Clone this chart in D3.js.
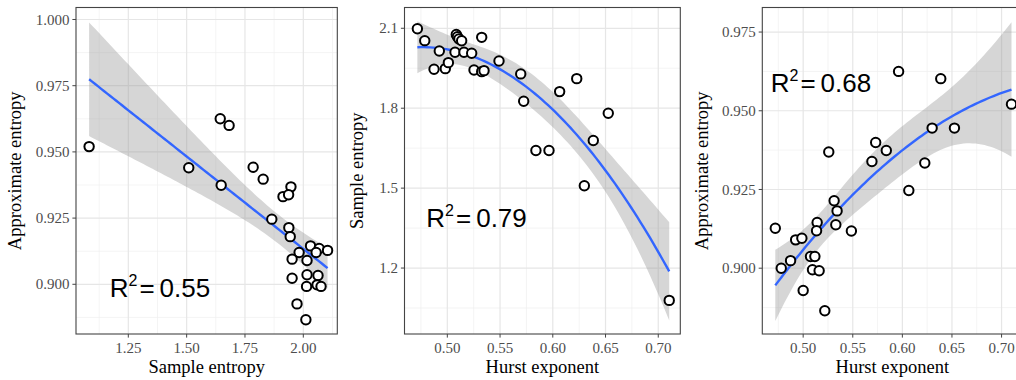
<!DOCTYPE html>
<html><head><meta charset="utf-8">
<script src="https://cdn.jsdelivr.net/npm/d3@7"></script>
<style>body{margin:0;background:#fff} svg{display:block}</style>
</head><body><svg id="c" width="1016" height="380"></svg>
<script>
// ---------- data ----------
// Panel A: approximate entropy vs sample entropy
const sampEnA = [1.082,1.509,1.644,1.682,1.648,1.785,1.828,1.947,1.913,1.937,1.865,1.938,1.944,2.031,
                 2.068,2.104,1.982,2.055,1.952,2.016,1.952,2.016,2.063,2.014,2.059,2.076,1.973,2.011];
const apEnA   = [0.9520,0.9440,0.9625,0.9600,0.9374,0.9442,0.9397,0.9368,0.9331,0.9338,0.9246,0.9214,0.9180,0.9145,
                 0.9135,0.9128,0.9120,0.9120,0.9095,0.9090,0.9023,0.9036,0.9033,0.8992,0.8998,0.8992,0.8926,0.8866];
// Panel B: sample entropy vs Hurst exponent
const hurstB   = [0.4716,0.4786,0.4874,0.4924,0.4981,0.5010,0.5073,0.5085,0.5096,0.5110,0.5136,0.5158,0.5231,0.5253,
                  0.5326,0.5348,0.5326,0.5490,0.5696,0.5724,0.5840,0.5964,0.6065,0.6227,0.6384,0.6526,0.6299,0.7104];
const sampEnB  = [2.0985,2.0535,1.9463,2.0149,1.9485,1.9710,2.0100,2.0770,2.0680,2.0600,2.0530,2.0100,2.0060,1.9436,
                  1.9373,1.9410,2.0660,1.9774,1.9287,1.8263,1.6410,1.6410,1.8623,1.9110,1.6786,1.7813,1.5087,1.0786];
// Panel C: approximate entropy vs Hurst exponent
const hurstC = [0.5962,0.6387,0.7100,0.5258,0.5731,0.5838,0.5693,0.6300,0.6525,0.6226,0.6065,0.5312,0.5342,0.4719,
                0.5141,0.5135,0.5329,0.5486,0.4924,0.4987,0.4779,0.4873,0.5074,0.5118,0.5094,0.5161,0.5000,0.5218];
const apEnC  = [0.9625,0.9602,0.9521,0.9369,0.9399,0.9374,0.9339,0.9445,0.9445,0.9334,0.9247,0.9214,0.9182,0.9127,
                0.9145,0.9119,0.9138,0.9118,0.9090,0.9095,0.9000,0.9024,0.9037,0.9037,0.8995,0.8992,0.8929,0.8865];

const xTicksA = [1.25,1.50,1.75,2.00];
const yTicksA = [0.900,0.925,0.950,0.975,1.000];
const xTicksB = [0.50,0.55,0.60,0.65,0.70];
const yTicksB = [1.2,1.5,1.8,2.1];
const xTicksC = [0.50,0.55,0.60,0.65,0.70];
const yTicksC = [0.900,0.925,0.950,0.975];
const r2Values = ["0.55","0.79","0.68"];
const xTitles = ["Sample entropy","Hurst exponent","Hurst exponent"];
const yTitles = ["Approximate entropy","Sample entropy","Approximate entropy"];

// ---------- layout ----------
const TOP = 7.5, BOTTOM = 334;
const panels = [
  {x:sampEnA, y:apEnA, left:76,    right:337.3,  xDom:[1.0258,2.1457], yDom:[0.88123,1.00453], deg:1,
   xT:xTicksA, yT:yTicksA, xF:".2f", yF:".3f", r2x:111.7, r2y:297.3, yTitleX:21, xTitleX:206.7},
  {x:hurstB,  y:sampEnB, left:404.5, right:680.3, xDom:[0.4594,0.7209], yDom:[0.9525,2.178], deg:2,
   xT:xTicksB, yT:yTicksB, xF:".2f", yF:".1f", r2x:428.3, r2y:227.3, yTitleX:362.5, xTitleX:542.4},
  {x:hurstC,  y:apEnC, left:762.3,  right:1022.3, xDom:[0.4588,0.7209], yDom:[0.8791,0.9828], deg:2,
   xT:xTicksC, yT:yTicksC, xF:".2f", yF:".3f", r2x:772.7, r2y:91.7, yTitleX:707.5, xTitleX:892.3}
];

// ---------- regression (lm with 95% CI, like geom_smooth) ----------
function invert(M){
  const n=M.length, A=M.map((r,i)=>r.concat(d3.range(n).map(j=>i===j?1:0)));
  for(let c=0;c<n;c++){
    let p=c; for(let r=c+1;r<n;r++) if(Math.abs(A[r][c])>Math.abs(A[p][c])) p=r;
    [A[c],A[p]]=[A[p],A[c]];
    const d=A[c][c]; for(let k=0;k<2*n;k++) A[c][k]/=d;
    for(let r=0;r<n;r++) if(r!==c){const f=A[r][c]; for(let k=0;k<2*n;k++) A[r][k]-=f*A[c][k];}
  }
  return A.map(r=>r.slice(n));
}
function tq975(nu){
  const z=1.959964;
  return z+(z**3+z)/(4*nu)+(5*z**5+16*z**3+3*z)/(96*nu*nu)+(3*z**7+19*z**5+17*z**3-15*z)/(384*nu**3);
}
function fitPoly(xs, ys, deg, n=80){
  const N=xs.length, p=deg+1, mx=d3.mean(xs);
  const row=x=>d3.range(p).map(k=>Math.pow(x-mx,k));
  const A=d3.range(p).map(()=>Array(p).fill(0)), b=Array(p).fill(0);
  xs.forEach((x,i)=>{const r=row(x); for(let j=0;j<p;j++){b[j]+=r[j]*ys[i]; for(let k=0;k<p;k++) A[j][k]+=r[j]*r[k];}});
  const Ai=invert(A);
  const beta=Ai.map(r=>d3.sum(r,(v,k)=>v*b[k]));
  const pred=x=>{const r=row(x); return d3.sum(r,(v,k)=>v*beta[k]);};
  const rss=d3.sum(xs,(x,i)=>(ys[i]-pred(x))**2);
  const df=N-p, s2=rss/df, t=tq975(df);
  const [x0,x1]=d3.extent(xs);
  return d3.range(n).map(i=>{
    const x=x0+(x1-x0)*i/(n-1), r=row(x), f=pred(x);
    let q=0; for(let j=0;j<p;j++) for(let k=0;k<p;k++) q+=r[j]*Ai[j][k]*r[k];
    const se=Math.sqrt(s2*q);
    return {x, y:f, lo:f-t*se, hi:f+t*se};
  });
}
function minors(ticks){
  const st=ticks[1]-ticks[0], out=[];
  for(let i=-1;i<ticks.length;i++) out.push(ticks[0]+st*(i+0.5));
  return out;
}

const svg=d3.select("#c");
const serif="'Liberation Serif','Times New Roman',serif";

panels.forEach((P,pi)=>{
  const xs=d3.scaleLinear().domain(P.xDom).range([P.left,P.right]);
  const ys=d3.scaleLinear().domain(P.yDom).range([BOTTOM,TOP]);
  const g=svg.append("g");
  const cid="clip"+pi;
  g.append("clipPath").attr("id",cid).append("rect")
    .attr("x",P.left).attr("y",TOP).attr("width",P.right-P.left).attr("height",BOTTOM-TOP);
  const inner=g.append("g").attr("clip-path",`url(#${cid})`);
  inner.append("rect").attr("x",P.left).attr("y",TOP).attr("width",P.right-P.left).attr("height",BOTTOM-TOP).attr("fill","#fff");

  // grid
  const xm=minors(P.xT).filter(v=>v>P.xDom[0]&&v<P.xDom[1]);
  const ym=minors(P.yT).filter(v=>v>P.yDom[0]&&v<P.yDom[1]);
  inner.selectAll(".vmin").data(xm).join("line").attr("x1",d=>xs(d)).attr("x2",d=>xs(d))
    .attr("y1",TOP).attr("y2",BOTTOM).attr("stroke","#efefef").attr("stroke-width",0.7);
  inner.selectAll(".hmin").data(ym).join("line").attr("y1",d=>ys(d)).attr("y2",d=>ys(d))
    .attr("x1",P.left).attr("x2",P.right).attr("stroke","#efefef").attr("stroke-width",0.7);
  inner.selectAll(".vmaj").data(P.xT).join("line").attr("x1",d=>xs(d)).attr("x2",d=>xs(d))
    .attr("y1",TOP).attr("y2",BOTTOM).attr("stroke","#e6e6e6").attr("stroke-width",1.2);
  inner.selectAll(".hmaj").data(P.yT).join("line").attr("y1",d=>ys(d)).attr("y2",d=>ys(d))
    .attr("x1",P.left).attr("x2",P.right).attr("stroke","#e6e6e6").attr("stroke-width",1.2);

  // smooth
  const fit=fitPoly(P.x,P.y,P.deg);
  inner.append("path").datum(fit)
    .attr("d",d3.area().x(d=>xs(d.x)).y0(d=>ys(d.lo)).y1(d=>ys(d.hi)))
    .attr("fill","#999999").attr("fill-opacity",0.4);
  inner.append("path").datum(fit)
    .attr("d",d3.line().x(d=>xs(d.x)).y(d=>ys(d.y)))
    .attr("fill","none").attr("stroke","#3366FF").attr("stroke-width",2.4);

  // points
  inner.selectAll("circle").data(P.x.map((v,i)=>[v,P.y[i]])).join("circle")
    .attr("cx",d=>xs(d[0])).attr("cy",d=>ys(d[1])).attr("r",4.7)
    .attr("fill","#fff").attr("stroke","#000").attr("stroke-width",2);

  // R^2 label
  const t=inner.append("text").attr("x",P.r2x-2).attr("y",P.r2y)
    .style("font-family","'Liberation Sans',Arial,sans-serif").style("font-size","26px").attr("fill","#000");
  t.append("tspan").text("R");
  t.append("tspan").attr("dy",-11).style("font-size","16px").text("2");
  t.append("tspan").attr("dy",11).attr("dx",2).text("=");
  t.append("tspan").attr("dx",5).text(r2Values[pi]);

  // border
  g.append("rect").attr("x",P.left).attr("y",TOP).attr("width",P.right-P.left).attr("height",BOTTOM-TOP)
    .attr("fill","none").attr("stroke","#444").attr("stroke-width",1.1);

  // ticks
  g.selectAll(".xt").data(P.xT).join("line").attr("x1",d=>xs(d)).attr("x2",d=>xs(d))
    .attr("y1",BOTTOM).attr("y2",BOTTOM+3.6).attr("stroke","#444").attr("stroke-width",1);
  g.selectAll(".yt").data(P.yT).join("line").attr("y1",d=>ys(d)).attr("y2",d=>ys(d))
    .attr("x1",P.left-3.6).attr("x2",P.left).attr("stroke","#444").attr("stroke-width",1);
  g.selectAll(".xl").data(P.xT).join("text").attr("x",d=>xs(d)).attr("y",353)
    .attr("text-anchor","middle").style("font-family",serif).style("font-size","15px").attr("fill","#4d4d4d")
    .text(d=>d3.format(P.xF)(d));
  g.selectAll(".yl").data(P.yT).join("text").attr("x",P.left-6.5).attr("y",d=>ys(d)).attr("dy","0.34em")
    .attr("text-anchor","end").style("font-family",serif).style("font-size","15px").attr("fill","#4d4d4d")
    .text(d=>d3.format(P.yF)(d));

  // titles
  g.append("text").attr("x",P.xTitleX).attr("y",372.7)
    .attr("text-anchor","middle").style("font-family",serif).style("font-size","18.5px").attr("fill","#000")
    .text(xTitles[pi]);
  g.append("text").attr("transform",`translate(${P.yTitleX},${(TOP+BOTTOM)/2}) rotate(-90)`)
    .attr("text-anchor","middle").style("font-family",serif).style("font-size","18.5px").attr("fill","#000")
    .text(yTitles[pi]);
});
</script></body></html>
